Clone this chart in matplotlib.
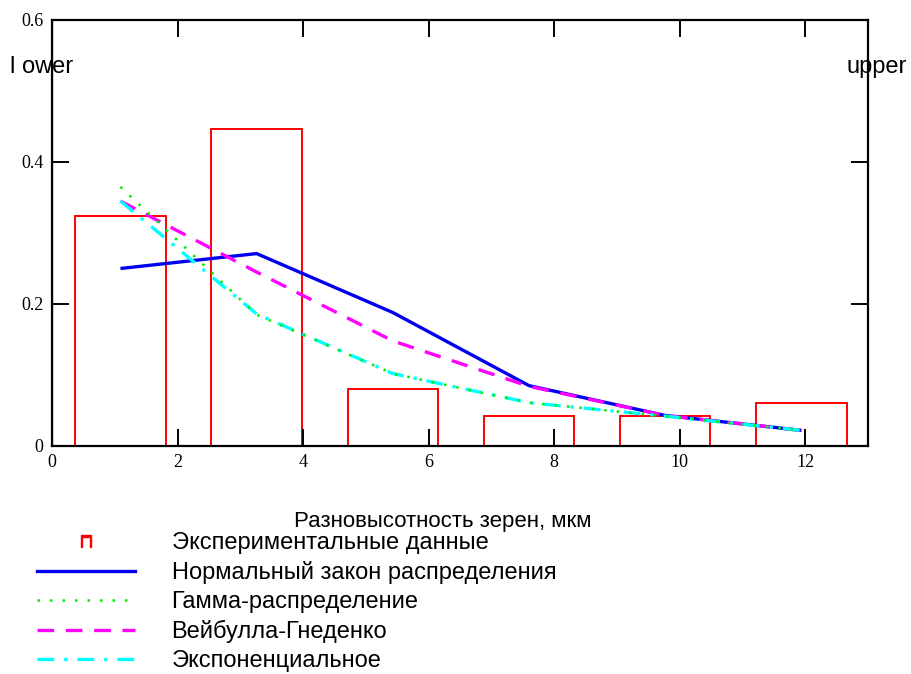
import matplotlib.pyplot as plt
from matplotlib.lines import Line2D

# bin centres, mkm
x_centers = [1.09, 3.26, 5.43, 7.6, 9.77, 11.94]

# observed frequencies (histogram)
experimental = [0.324, 0.446, 0.080, 0.042, 0.042, 0.060]

# fitted distributions at bin centres
normal = [0.250, 0.271, 0.188, 0.085, 0.043, 0.022]
gamma = [0.365, 0.185, 0.102, 0.061, 0.042, 0.022]
weibull = [0.345, 0.245, 0.148, 0.084, 0.043, 0.022]
exponential = [0.345, 0.186, 0.102, 0.061, 0.042, 0.022]

x_ticks = [0, 2, 4, 6, 8, 10, 12]
y_ticks = [0, 0.2, 0.4, 0.6]

labels = ['Экспериментальные данные',
          'Нормальный закон распределения',
          'Гамма-распределение',
          'Вейбулла-Гнеденко',
          'Экспоненциальное']

sans = 'Liberation Sans'
serif = 'Liberation Serif'

fig = plt.figure(figsize=(9.11, 6.74), dpi=100)
ax = fig.add_axes([52 / 911, 1 - 446 / 674, 816 / 911, 426 / 674])

ax.bar(x_centers, experimental, width=1.44, fill=False, edgecolor='red', linewidth=1.4)
ax.plot(x_centers, normal, color='#0000ee', linewidth=2.4, solid_capstyle='butt')
ax.plot(x_centers, weibull, color='#ff00ff', linewidth=2.4, linestyle=(0, (5, 3.5)))
ax.plot(x_centers, exponential, color='#00ffff', linewidth=2.4, linestyle=(0, (5, 3, 1, 3)))
ax.plot(x_centers, gamma, color='#00ee00', linewidth=1.8, linestyle=(0, (1, 4)))

ax.set_xlim(0, 13)
ax.set_ylim(0, 0.6)
ax.set_xticks(x_ticks)
ax.set_yticks(y_ticks)
ax.set_xticklabels([str(v) for v in x_ticks], fontfamily=serif, fontsize=13)
ax.set_yticklabels(['0', '0.2', '0.4', '0.6'], fontfamily=serif, fontsize=13)
ax.tick_params(direction='in', length=12, width=1.4, top=True, right=True, pad=6)
for s in ax.spines.values():
    s.set_linewidth(1.6)

# lower / upper markers
ax.axvline(0, color='red', linewidth=0.9)
ax.axvline(13, color='#cc0000', linewidth=0.9)
fig.text(10 / 911, 1 - 67 / 674, 'l ower', fontfamily=sans, fontsize=17, va='center', ha='left')
fig.text(907 / 911, 1 - 67 / 674, 'upper', fontfamily=sans, fontsize=17, va='center', ha='right')

fig.text(443 / 911, 1 - 521 / 674, 'Разновысотность зерен, мкм', fontfamily=sans,
         fontsize=16, ha='center', va='center')

handles = [
    Line2D([], [], color='red', marker=r'$\sqcap$', linestyle='none', markersize=8),
    Line2D([], [], color='#0000ee', linewidth=2.4),
    Line2D([], [], color='#00ee00', linewidth=1.8, linestyle=(0, (1, 4))),
    Line2D([], [], color='#ff00ff', linewidth=2.4, linestyle=(0, (5, 3.5))),
    Line2D([], [], color='#00ffff', linewidth=2.4, linestyle=(0, (5, 3, 1, 3))),
]
fig.legend(handles, labels, loc='upper left', bbox_to_anchor=(37 / 911, 1 - 532 / 674),
           frameon=False, prop={'family': sans, 'size': 17}, handlelength=4.15,
           handletextpad=1.55, labelspacing=0.3, borderpad=0, borderaxespad=0)

fig.savefig('out.png', dpi=100)
